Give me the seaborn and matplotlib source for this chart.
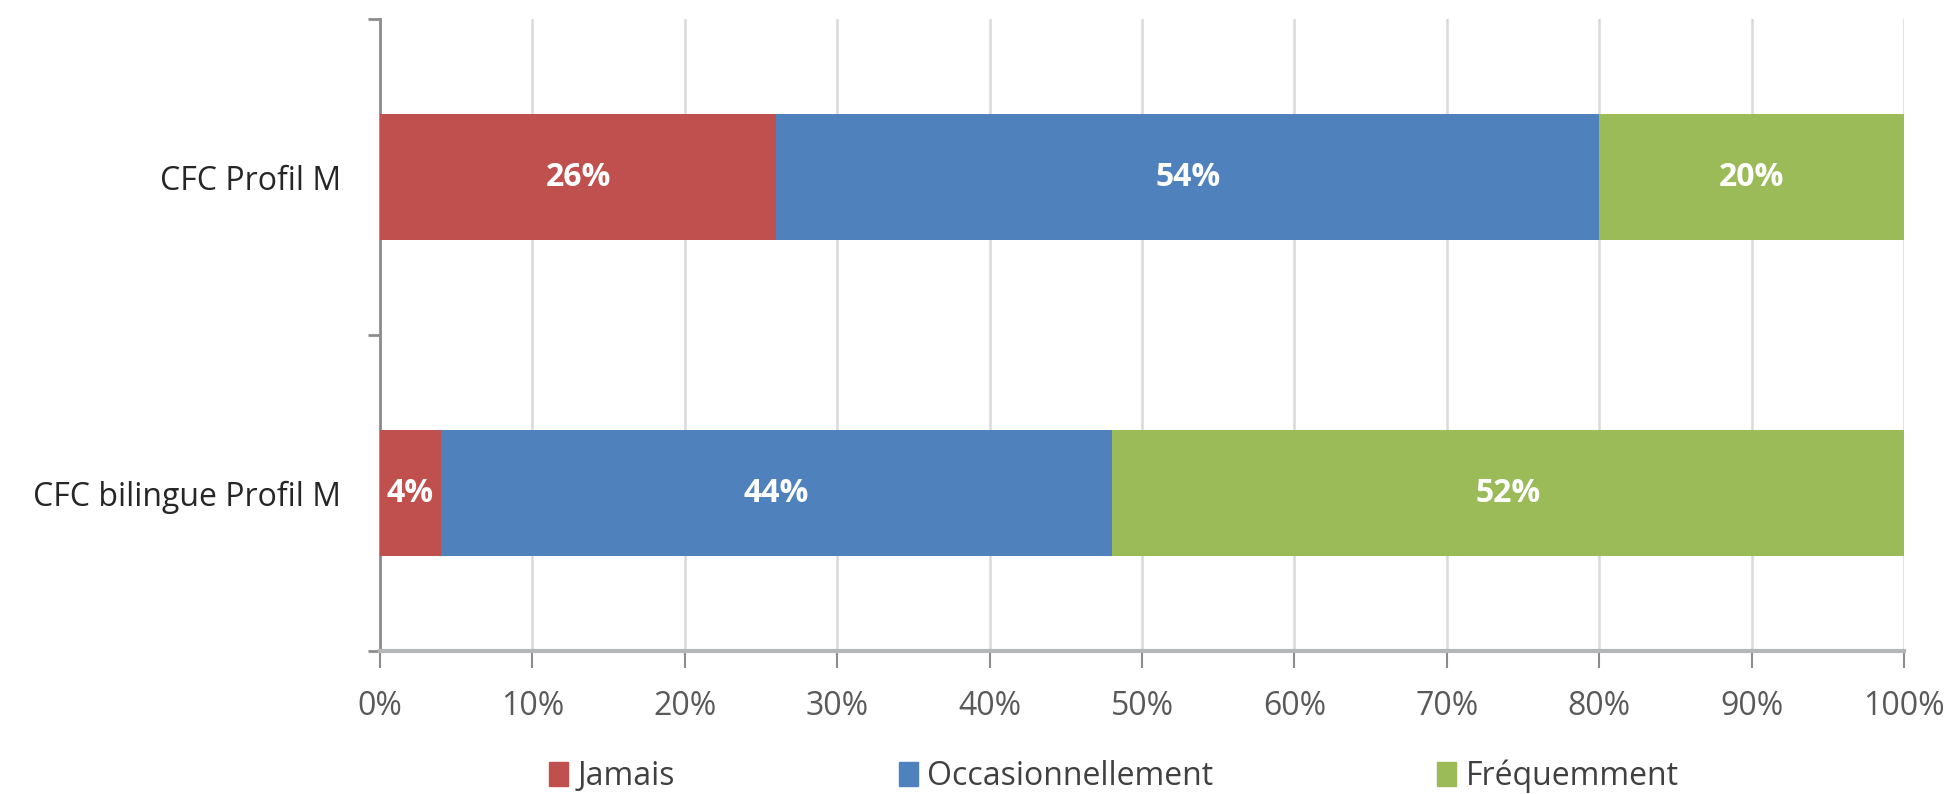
import matplotlib
matplotlib.use("Agg")
import matplotlib.pyplot as plt
import seaborn as sns
import pandas as pd
import numpy as np
from matplotlib.ticker import FixedLocator, PercentFormatter

categories = ["CFC Profil M", "CFC bilingue Profil M"]
series = ["Jamais", "Occasionnellement", "Fréquemment"]
jamais = [26, 4]
occasionnellement = [54, 44]
frequemment = [20, 52]
colors = ["#C0504D", "#4F81BD", "#9BBB59"]
x_ticks = [0, 10, 20, 30, 40, 50, 60, 70, 80, 90, 100]

sns.set_theme(style="white")
fam = ["Open Sans", "DejaVu Sans"]
plt.rcParams["font.family"] = fam

fig = plt.figure(figsize=(19.54, 7.94), dpi=100)
ax = fig.add_axes([0.1945, 0.180, 0.9744 - 0.1945, 0.976 - 0.180])

vals = [jamais, occasionnellement, frequemment]
cum = np.cumsum(np.array(vals, dtype=float), axis=0)

# draw cumulative bars from largest to smallest so they appear stacked
for i in reversed(range(len(series))):
    df = pd.DataFrame({"cat": categories, "val": cum[i]})
    sns.barplot(data=df, x="val", y="cat", orient="h", color=colors[i],
                width=0.4, saturation=1, ax=ax, errorbar=None, linewidth=0,
                zorder=3)

# data labels
for i in range(len(series)):
    for j, cat in enumerate(categories):
        start = cum[i][j] - vals[i][j]
        ax.text(start + vals[i][j] / 2, j, f"{vals[i][j]}%", ha="center", va="center",
                color="white", fontsize=23, fontweight="bold", zorder=5)

ax.set_xlim(0, 100)
ax.set_ylim(1.5, -0.5)
ax.set_xlabel("")
ax.set_ylabel("")
ax.xaxis.set_major_locator(FixedLocator(x_ticks))
ax.xaxis.set_major_formatter(PercentFormatter(decimals=0))
ax.grid(axis="x", color="#D9D9D9", linewidth=1.8, zorder=0)
ax.grid(axis="y", visible=False)
ax.set_axisbelow(True)

for s in ["top", "right"]:
    ax.spines[s].set_visible(False)
ax.spines["left"].set_color("#8C8C8C")
ax.spines["left"].set_linewidth(2)
ax.spines["bottom"].set_color("#B4B7B7")
ax.spines["bottom"].set_linewidth(3)

ax.tick_params(axis="x", which="major", direction="out", length=12, width=1.5,
               color="#8C8C8C", pad=16, labelsize=23, labelcolor="#595959", bottom=True)
ax.yaxis.set_minor_locator(FixedLocator([-0.5, 0.5, 1.5]))
ax.tick_params(axis="y", which="major", length=0, pad=28, labelsize=23, labelcolor="#262626")
ax.tick_params(axis="y", which="minor", direction="out", length=9, width=2,
               color="#8C8C8C", left=True)

handles = [plt.Rectangle((0, 0), 1, 1, color=c) for c in colors]
fig.legend(handles, series, loc="center", bbox_to_anchor=(0.57, 0.022), ncol=3,
           frameon=False, fontsize=23, handlelength=0.6, handleheight=0.8,
           handletextpad=0.3, columnspacing=7, labelcolor="#404040")

fig.savefig("out.png", dpi=100)
